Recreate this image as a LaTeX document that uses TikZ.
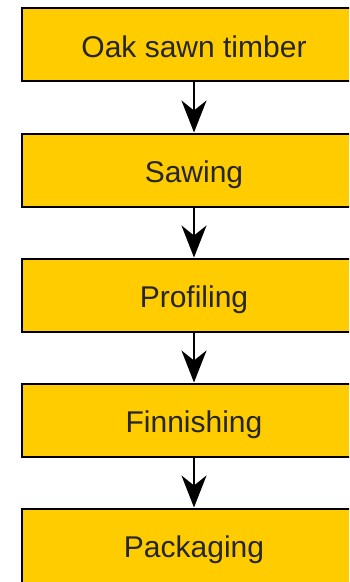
\documentclass[tikz,border=0pt]{standalone}
\usepackage{fontspec}
\setmainfont{Liberation Sans}
\usetikzlibrary{arrows.meta}
\definecolor{boxfill}{HTML}{FFCC00}
\tikzset{
  stepbox/.style={draw=black, line width=2pt, fill=boxfill, minimum width=344pt, minimum height=73pt, inner sep=0pt, text height=25pt, text depth=0pt, font=\fontsize{30}{34}\selectfont, text=black!85},
  flow/.style={line width=2pt, -{Stealth[length=32pt,width=25pt,inset=10pt]}}
}
\begin{document}
\begin{tikzpicture}[x=1pt,y=-1pt]
\useasboundingbox (0,0) rectangle (349,582);
\clip (0,0) rectangle (349,582);
\node[stepbox] (a) at (194,44.5) {Oak sawn timber};
\node[stepbox] (b) at (194,170) {Sawing};
\node[stepbox] (c) at (194,295) {Profiling};
\node[stepbox] (d) at (194,420) {Finnishing};
\node[stepbox, minimum height=78pt, text depth=5pt] (e) at (194,547.5) {Packaging};
\draw[flow] (a) -- (b);
\draw[flow] (b) -- (c);
\draw[flow] (c) -- (d);
\draw[flow] (d) -- (e);
\end{tikzpicture}
\end{document}
